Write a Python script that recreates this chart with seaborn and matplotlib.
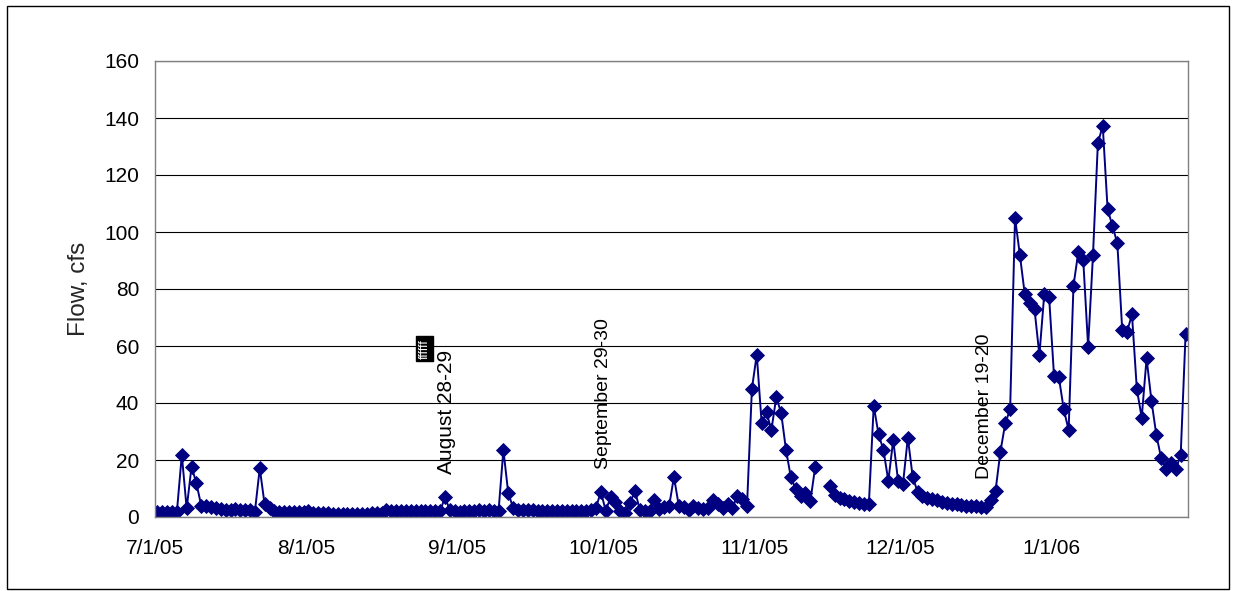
import numpy as np
import pandas as pd
import seaborn as sns
import matplotlib.pyplot as plt
from matplotlib.patches import Rectangle
from matplotlib.ticker import FuncFormatter, MultipleLocator
import matplotlib.dates as mdates

# daily flow (cfs), 7/1/05 onwards
jul = [1.9, 1.9, 1.9, 1.9, 1.9, 21.8, 3.0, 17.7, 11.8, 3.9, 3.7, 3.4, 3.2, 2.7, 2.6, 2.6,
       2.7, 2.6, 2.6, 2.4, 1.9, 17.1, 4.4, 3.2, 2.1, 1.9, 1.9, 1.8, 1.8, 1.7, 1.6]
aug = [2.0, 1.4, 1.3, 1.3, 1.3, 1.2, 1.2, 1.2, 1.2, 1.2, 1.2, 1.2, 1.2, 1.3, 1.3, 1.3,
       2.6, 2.1, 2.0, 2.0, 2.0, 2.0, 2.0, 2.0, 2.0, 2.0, 2.0, 2.0, 6.9, 2.5, 2.0]
sep = [1.8, 2.0, 2.2, 2.2, 2.3, 2.2, 2.4, 2.0, 2.0, 23.5, 8.3, 3.3, 2.4, 2.4, 2.4,
       2.3, 2.2, 2.1, 2.0, 2.0, 2.0, 2.0, 2.0, 2.1, 2.1, 2.2, 2.0, 2.3, 3.2, 8.9]
oct_ = [2.2, 6.9, 5.4, 2.2, 1.3, 5.0, 9.2, 2.5, 2.2, 2.2, 6.0, 2.9, 3.4, 3.7, 14.1, 3.9,
        3.4, 2.5, 3.7, 3.1, 2.8, 3.1, 6.0, 4.5, 3.1, 4.5, 3.1, 7.4, 6.2, 3.9, 45.0]
nov = [57.0, 32.9, 36.7, 30.5, 42.0, 36.6, 23.5, 13.9, 9.8, 7.4, 8.3, 5.6, 17.7, np.nan, np.nan,
       11.0, 7.7, 6.8, 6.2, 5.6, 5.2, 4.8, 4.5, 4.4, 39.0, 29.0, 23.5, 12.7, 27.0, 12.7]
dec = [11.5, 27.8, 14.1, 8.8, 7.5, 6.8, 6.2, 5.8, 5.4, 5.0, 4.7, 4.4, 4.2, 4.0, 3.9, 3.7,
       3.6, 3.5, 6.0, 9.2, 22.9, 32.9, 37.8, 105.0, 91.9, 78.2, 75.2, 72.9, 56.8, 78.2, 77.1]
jan = [49.6, 49.0, 37.8, 30.5, 81.2, 93.1, 90.2, 59.8, 91.9, 131.1, 137.3, 108.0, 102.1, 96.0,
       65.6, 65.0, 71.1, 44.9, 34.9, 55.7, 40.8, 28.8, 20.6, 16.8, 18.8, 16.8, 21.8, 64.1]

flow = jul + aug + sep + oct_ + nov + dec + jan

# storm event labels: text, day offset from 7/1/05, flow at text bottom
event_labels = ['August 28-29', 'September 29-30', 'December 19-20']
event_days = [59.8, 92.1, 170.2]
event_flow = [15.0, 17.0, 13.5]
event_size = [15, 14, 14]

start = pd.Timestamp('2005-07-01')
dates = pd.date_range(start, periods=len(flow), freq='D') + pd.Timedelta(hours=12)
df = pd.DataFrame({'date': dates, 'flow': flow})
# missing days break the line
df['piece'] = df['flow'].isna().cumsum()
df = df.dropna()

sns.set_theme(style='white')
plt.rcParams['font.family'] = ['Liberation Sans', 'DejaVu Sans']

fig = plt.figure(figsize=(12.36, 5.91), dpi=100)
ax = fig.add_axes([155 / 1236, 1 - 517 / 591, (1188 - 155) / 1236, (517 - 61) / 591])

sns.lineplot(data=df, x='date', y='flow', units='piece', estimator=None,
             color='#000080', marker='D', markersize=6.8, markeredgecolor='#000080',
             markeredgewidth=0.6, linewidth=1.4, legend=False, ax=ax)

ax.set_xlim(start, start + pd.Timedelta(days=len(flow)))
ax.set_ylim(0, 160)
ax.yaxis.set_major_locator(MultipleLocator(20))
ax.xaxis.set_major_locator(mdates.MonthLocator())
ax.xaxis.set_major_formatter(FuncFormatter(
    lambda v, pos: (lambda d: f"{d.month}/{d.day}/{d:%y}")(mdates.num2date(v))))

ax.yaxis.grid(True, color='black', linewidth=0.8)
ax.set_axisbelow(True)
for s in ax.spines.values():
    s.set_color('#808080')
    s.set_linewidth(1.0)

ax.tick_params(axis='both', direction='out', length=5.5, width=0.8, color='#404040',
               labelsize=15, labelcolor='black')
ax.tick_params(axis='y', pad=6)
ax.tick_params(axis='x', pad=10)
ax.set_xlabel('')
ax.set_ylabel('Flow, cfs', fontsize=17.5)
ax.yaxis.set_label_coords(-0.063, 0.5)

for lab, d, y, fs in zip(event_labels, event_days, event_flow, event_size):
    ax.text(start + pd.Timedelta(days=d), y, lab, rotation=90, ha='center', va='bottom',
            fontsize=fs, color='black')

# small black box artifact from the original chart
ax.text(start + pd.Timedelta(days=55.3), 59, 'ffffff', rotation=90, ha='center', va='center',
        fontsize=9, color='white',
        bbox=dict(boxstyle='square,pad=0.2', facecolor='black', edgecolor='black'))

fig.patches.append(Rectangle((7 / 1236, 1 - 589 / 591), 1222 / 1236, 583 / 591,
                             transform=fig.transFigure, fill=False,
                             edgecolor='black', linewidth=1.0))

fig.savefig('out.png', dpi=100)
